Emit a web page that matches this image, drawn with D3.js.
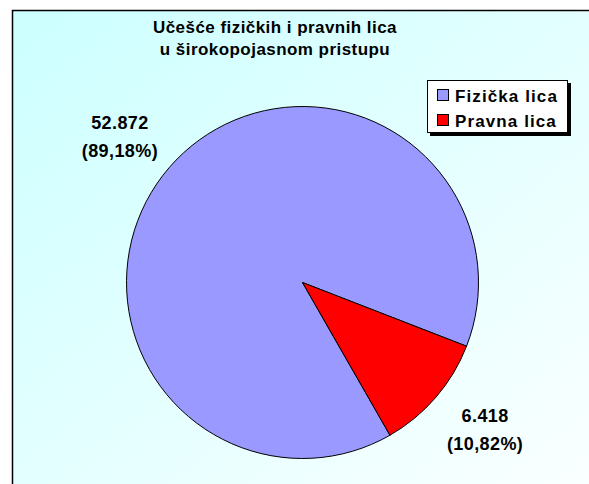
<!DOCTYPE html>
<html>
<head>
<meta charset="utf-8">
<script src="https://cdn.jsdelivr.net/npm/d3@7"></script>
<style>
  html, body { margin: 0; padding: 0; background: #fff; }
  svg { display: block; font-family: "Liberation Sans", Arial, sans-serif; }
</style>
</head>
<body>
<div id="chart"></div>
<script>
// Data
const categories = ["Fizička lica", "Pravna lica"];
const values = [52872, 6418];
const colors = ["#9999FF", "#FF0000"];
const titleLines = ["Učešće fizičkih i pravnih lica", "u širokopojasnom pristupu"];

const width = 589, height = 484;
const cx = 302.5, cy = 282.5, radius = 176;
const firstSliceAngle = 150.2; // degrees, clockwise from 12 o'clock

const loc = d3.formatLocale({ decimal: ",", thousands: ".", grouping: [3], currency: ["", ""] });
const fmtNum = loc.format(",d");
const fmtPct = loc.format(".2%");

const svg = d3.select("#chart")
  .append("svg")
    .attr("width", width)
    .attr("height", height);

// background gradient
const grad = svg.append("defs").append("linearGradient")
    .attr("id", "bg")
    .attr("x1", "0").attr("y1", "0")
    .attr("x2", "1").attr("y2", "1");
grad.append("stop").attr("offset", "0%").attr("stop-color", "#CCFFFF");
grad.append("stop").attr("offset", "100%").attr("stop-color", "#FFFFFF");

svg.append("rect")
    .attr("x", 12.5).attr("y", 10.5)
    .attr("width", 640).attr("height", 520)
    .attr("fill", "url(#bg)")
    .attr("stroke", "#000")
    .attr("stroke-width", 1.5);

// title
svg.append("text")
    .attr("x", 275)
    .attr("text-anchor", "middle")
    .attr("font-weight", "bold")
    .attr("font-size", 17)
    .attr("letter-spacing", 0.45)
    .attr("fill", "#000")
  .selectAll("tspan")
  .data(titleLines)
  .enter().append("tspan")
    .attr("x", 275)
    .attr("y", (d, i) => 33 + i * 22)
    .text(d => d);

// pie
const total = d3.sum(values);
const data = categories.map((c, i) => ({ name: c, value: values[i], color: colors[i] }));
const a0 = firstSliceAngle * Math.PI / 180;
const pie = d3.pie().sort(null).value(d => d.value)
  .startAngle(a0).endAngle(a0 + 2 * Math.PI);
const arcs = pie(data);
const arc = d3.arc().innerRadius(0).outerRadius(radius);

const g = svg.append("g").attr("transform", `translate(${cx},${cy})`);
g.selectAll("path")
  .data(arcs)
  .enter().append("path")
    .attr("d", arc)
    .attr("fill", d => d.data.color)
    .attr("stroke", "#000")
    .attr("stroke-width", 1)
    .attr("stroke-linejoin", "miter");

// labels
const labelR = 234, shift = -2 * Math.PI / 180;
const lbl = g.selectAll("text.lbl")
  .data(arcs)
  .enter().append("text")
    .attr("class", "lbl")
    .attr("text-anchor", "middle")
    .attr("font-weight", "bold")
    .attr("font-size", 18)
    .attr("letter-spacing", 0.4)
    .attr("fill", "#000")
    .attr("transform", d => {
      const a = (d.startAngle + d.endAngle) / 2 + shift;
      return `translate(${labelR * Math.sin(a)},${-labelR * Math.cos(a)})`;
    });
lbl.append("tspan").attr("x", 0).attr("y", -7).text(d => fmtNum(d.data.value));
lbl.append("tspan").attr("x", 0).attr("y", 21).text(d => "(" + fmtPct(d.data.value / total) + ")");

// legend
const legend = svg.append("g").attr("transform", "translate(427,80)");
legend.append("rect")
    .attr("x", 3).attr("y", 3).attr("width", 141).attr("height", 53)
    .attr("fill", "#000");
legend.append("rect")
    .attr("x", 0.5).attr("y", 0.5).attr("width", 140).attr("height", 52)
    .attr("fill", "#fff").attr("stroke", "#000").attr("stroke-width", 1);
const items = legend.selectAll("g.item")
  .data(data)
  .enter().append("g")
    .attr("class", "item")
    .attr("transform", (d, i) => `translate(10,${15 + i * 25})`);
items.append("rect")
    .attr("x", 0.5).attr("y", -5.5).attr("width", 11).attr("height", 11)
    .attr("fill", d => d.color).attr("stroke", "#000");
items.append("text")
    .attr("x", 18).attr("y", 6.5)
    .attr("font-weight", "bold")
    .attr("font-size", 17)
    .attr("letter-spacing", 1.1)
    .text(d => d.name);
</script>
</body>
</html>
